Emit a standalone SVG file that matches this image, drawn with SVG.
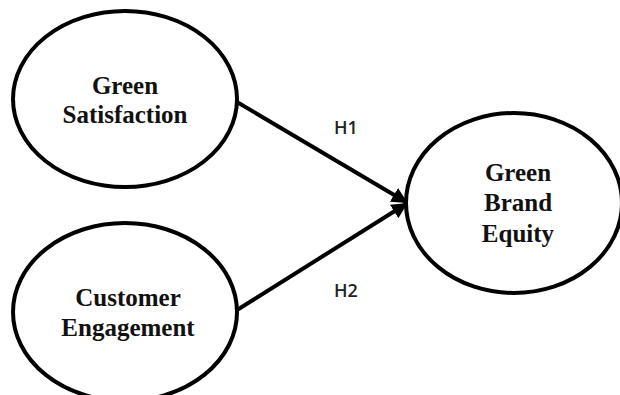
<svg xmlns="http://www.w3.org/2000/svg" width="620" height="395" viewBox="0 0 620 395">
<style>
.node{fill:#fff;stroke:#000;stroke-width:4}
.lbl{font-family:"Liberation Serif","Times New Roman",serif;font-weight:bold;font-size:25px;fill:#111;text-anchor:middle}
.h{font-family:"Open Sans","Liberation Sans",sans-serif;font-size:18px;font-weight:600;fill:#222;text-anchor:middle}
.edge{stroke:#000;stroke-width:4;fill:none}
</style>
<defs>
<marker id="arr" markerWidth="4" markerHeight="4" refX="3.5" refY="2" orient="auto" markerUnits="strokeWidth">
<path d="M0,0 L4,2 L0,4 Z" fill="#000"/>
</marker>
</defs>
<g id="connectors">
<line class="edge" x1="237" y1="102" x2="406" y2="202" marker-end="url(#arr)"/>
<line class="edge" x1="237" y1="310" x2="406" y2="204" marker-end="url(#arr)"/>
<text class="h" x="346" y="134">H1</text>
<text class="h" x="346" y="297">H2</text>
</g>
<g id="green-satisfaction">
<ellipse class="node" cx="125" cy="99" rx="112" ry="88"/>
<text class="lbl" x="125" y="94">Green</text>
<text class="lbl" x="125" y="123">Satisfaction</text>
</g>
<g id="customer-engagement">
<ellipse class="node" cx="125" cy="312" rx="112" ry="89"/>
<text class="lbl" x="128" y="306">Customer</text>
<text class="lbl" x="128" y="336">Engagement</text>
</g>
<g id="green-brand-equity">
<ellipse class="node" cx="514" cy="203" rx="108" ry="90"/>
<text class="lbl" x="518" y="181">Green</text>
<text class="lbl" x="518" y="211">Brand</text>
<text class="lbl" x="518" y="242">Equity</text>
</g>
</svg>
